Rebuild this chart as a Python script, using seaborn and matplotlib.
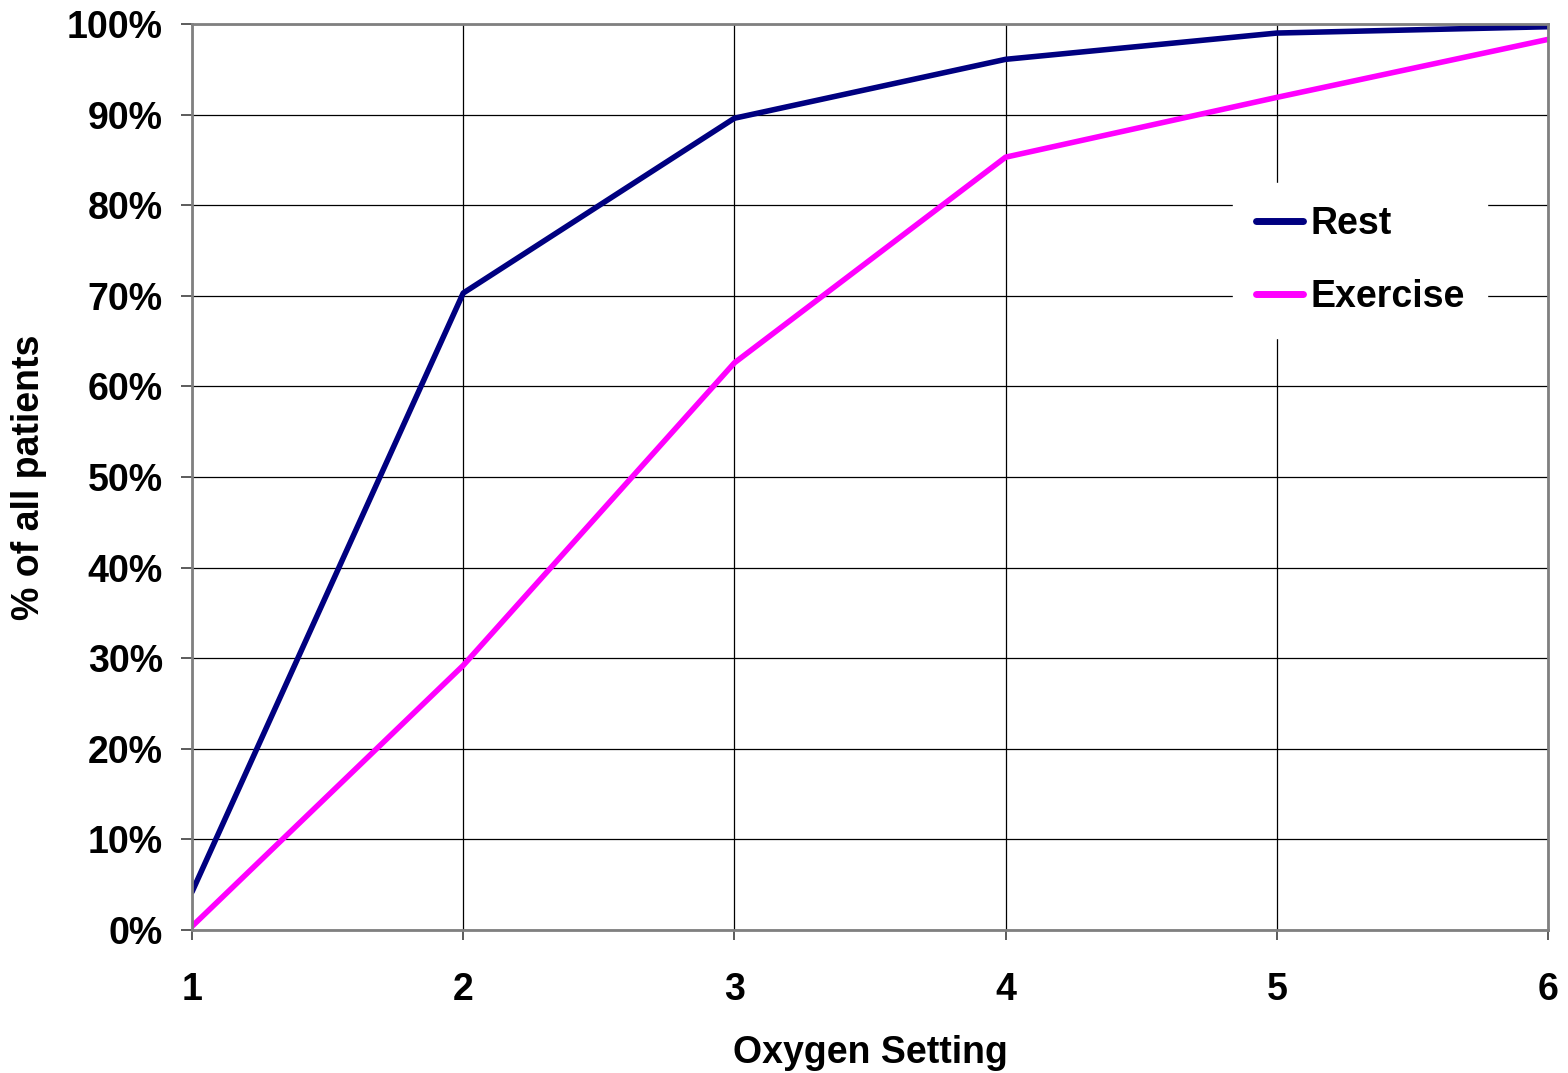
import matplotlib
matplotlib.use("Agg")
import matplotlib.pyplot as plt
import seaborn as sns
import pandas as pd
from matplotlib.ticker import FuncFormatter

oxygen_setting = [1, 2, 3, 4, 5, 6]
rest = [4.2, 70.3, 89.6, 96.1, 99.0, 99.7]
exercise = [0.4, 29.2, 62.6, 85.3, 91.9, 98.3]
series_names = ["Rest", "Exercise"]
series_colors = ["#000080", "#FF00FF"]
y_ticks = list(range(0, 101, 10))

df = pd.concat([
    pd.DataFrame({"Oxygen Setting": oxygen_setting, "value": rest, "series": "Rest"}),
    pd.DataFrame({"Oxygen Setting": oxygen_setting, "value": exercise, "series": "Exercise"}),
])

sns.set_theme(style="white")
plt.rcParams['font.family'] = ['Liberation Sans', 'DejaVu Sans']
plt.rcParams['font.weight'] = 'bold'
plt.rcParams['text.color'] = 'black'
plt.rcParams['axes.labelcolor'] = 'black'
plt.rcParams['xtick.color'] = 'black'
plt.rcParams['ytick.color'] = 'black'

fig = plt.figure(figsize=(15.68, 10.73), dpi=100)
ax = fig.add_axes([192/1568, 1 - 930/1073, (1548-192)/1568, (930-24)/1073])

sns.lineplot(data=df, x="Oxygen Setting", y="value", hue="series",
             hue_order=series_names, palette=series_colors, linewidth=4.0,
             ax=ax, legend=True)

ax.set_xlim(1, 6)
ax.set_ylim(0, 100)
ax.set_xticks(oxygen_setting)
ax.set_yticks(y_ticks)
ax.yaxis.set_major_formatter(FuncFormatter(lambda v, p: f"{int(v)}%"))
ax.grid(True, color="black", linewidth=0.9)
ax.set_axisbelow(True)
for s in ax.spines.values():
    s.set_color("#808080")
    s.set_linewidth(2)

ax.tick_params(axis="y", which="major", length=8, width=1.2, color="#404040",
               labelcolor="black", direction="out", pad=13, labelsize=27, left=True)
ax.tick_params(axis="x", which="major", length=7, width=1.2, color="#404040",
               labelcolor="black", direction="out", pad=23, labelsize=27, bottom=True)
for lbl in ax.get_xticklabels() + ax.get_yticklabels():
    lbl.set_fontweight("bold")

ax.set_xlabel("Oxygen Setting", fontsize=27, fontweight="bold", labelpad=20, color="black")
ax.set_ylabel("% of all patients", fontsize=27, fontweight="bold", labelpad=14, color="black")

leg = ax.legend(loc="upper left", bbox_to_anchor=(0.754, 0.845), frameon=True,
                fancybox=False, handlelength=1.25, handletextpad=0.2,
                labelspacing=1.0, borderpad=0.6,
                prop={"size": 27, "weight": "bold"})
leg.get_frame().set_facecolor("white")
leg.get_frame().set_edgecolor("white")
leg.get_frame().set_alpha(1)
for t in leg.get_texts():
    t.set_color("black")
for h in leg.get_lines():
    h.set_linewidth(5)

fig.savefig("out.png", dpi=100)
